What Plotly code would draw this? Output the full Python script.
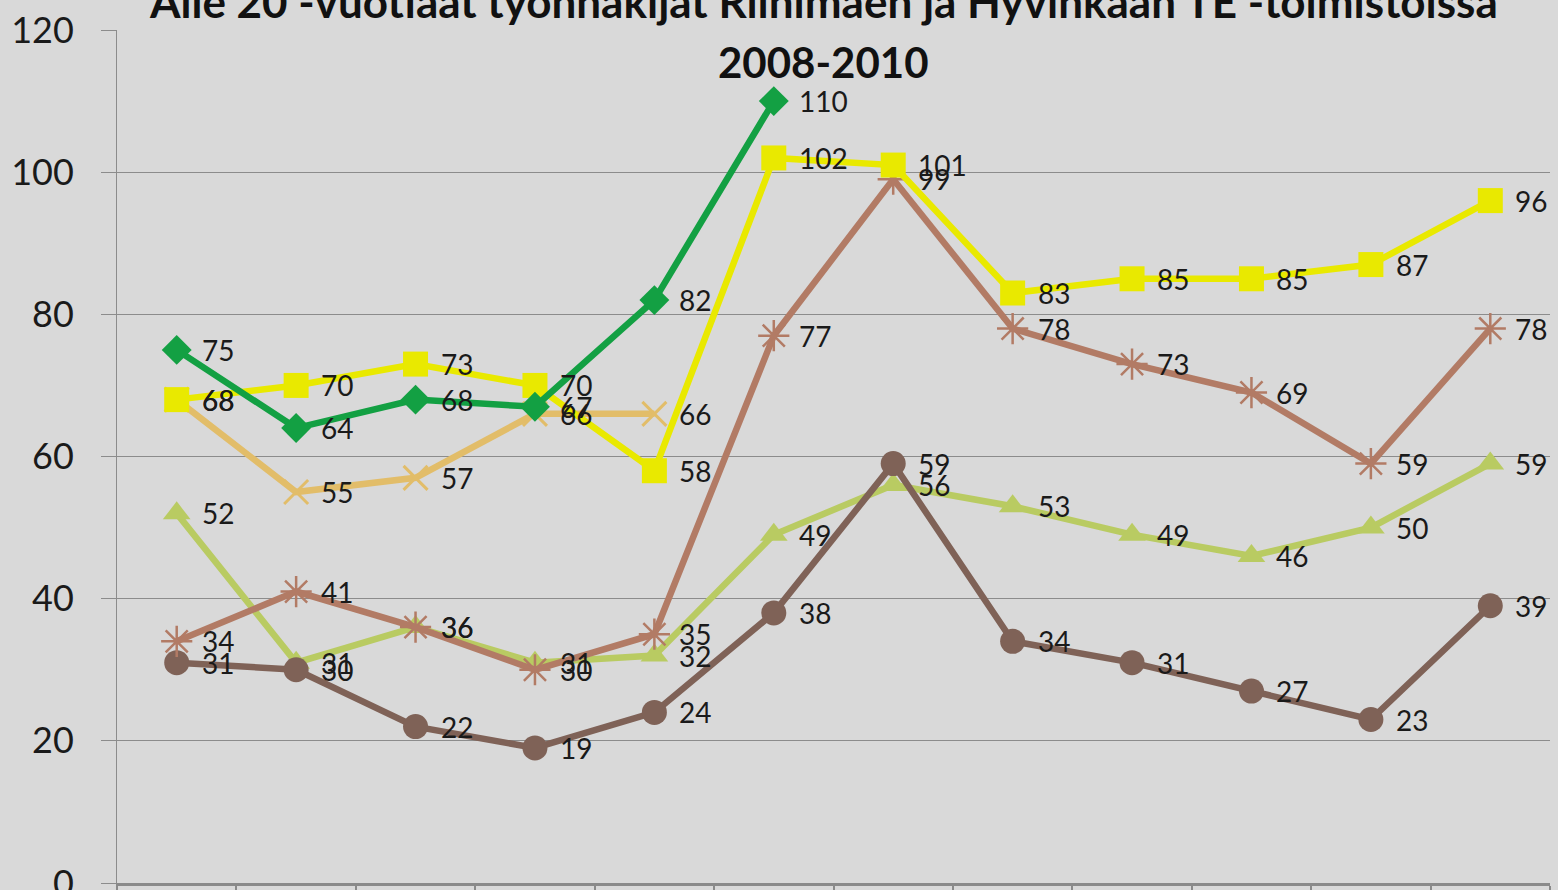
import plotly.graph_objects as go

categories = ["2008 Q1", "2008 Q2", "2008 Q3", "2008 Q4", "2009 Q1", "2009 Q2",
              "2009 Q3", "2009 Q4", "2010 Q1", "2010 Q2", "2010 Q3", "2010 Q4"]

green_vals = [75, 64, 68, 67, 82, 110]
yellow_vals = [68, 70, 73, 70, 58, 102, 101, 83, 85, 85, 87, 96]
tan_vals = [68, 55, 57, 66, 66]
olive_vals = [52, 31, 36, 31, 32, 49, 56, 53, 49, 46, 50, 59]
rust_vals = [34, 41, 36, 30, 35, 77, 99, 78, 73, 69, 59, 78]
brown_vals = [31, 30, 22, 19, 24, 38, 59, 34, 31, 27, 23, 39]

title_line1 = "Alle 20 -vuotiaat työnhakijat Riihimäen ja Hyvinkään TE -toimistoissa"
title_line2 = "2008-2010"

series = [
    # (values, color, symbol, size, marker line width)
    (olive_vals, "#b9cb62", "triangle-up", 24, None),
    (brown_vals, "#7f6257", "circle", 25, None),
    (rust_vals, "#b27b65", "asterisk-open", 26, 2.5),
    (tan_vals, "#e2bd69", "x-thin-open", 24, 3),
    (yellow_vals, "#e9e900", "square", 25, None),
    (green_vals, "#13a043", "diamond", 23, None),
]

fig = go.Figure()
for vals, color, symbol, size, mline in series:
    marker = dict(symbol=symbol, size=size, color=color)
    if mline:
        marker["line"] = dict(color=color, width=mline)
    else:
        marker["line"] = dict(width=0)
    fig.add_trace(go.Scatter(
        x=categories[:len(vals)], y=vals, mode="lines+markers",
        line=dict(color=color, width=6.5), marker=marker, showlegend=False,
        hoverinfo="skip"))

annotations = []
for vals, color, symbol, size, mline in series:
    for c, v in zip(categories, vals):
        annotations.append(dict(
            x=c, y=v, xref="x", yref="y", text=str(v), showarrow=False,
            xanchor="left", yanchor="middle", xshift=23, yshift=0,
            font=dict(family="Lato, Carlito, sans-serif", size=28, color="#1a1a1a")))

annotations.append(dict(
    x=0.5, y=1, xref="paper", yref="paper", xanchor="center", yanchor="middle",
    xshift=-10, yshift=29, text=f"<b>{title_line1}</b>", showarrow=False,
    font=dict(family="Lato, sans-serif", size=44, color="#111111")))
annotations.append(dict(
    x=0.5, y=1, xref="paper", yref="paper", xanchor="center", yanchor="middle",
    xshift=-10, yshift=-32, text=f"<b>{title_line2}</b>", showarrow=False,
    font=dict(family="Lato, sans-serif", size=42, color="#111111")))

fig.update_layout(
    width=1558, height=890,
    margin=dict(l=117, r=8, t=30, b=7, autoexpand=False),
    paper_bgcolor="#d9d9d9", plot_bgcolor="#d9d9d9",
    annotations=annotations,
    xaxis=dict(type="category", categoryorder="array", categoryarray=categories,
               range=[-0.5, 11.5], showgrid=False, showticklabels=False,
               ticks="outside", ticklen=12, tickcolor="#8a8a8a", tickwidth=1.5,
               tickson="boundaries", showline=True, linecolor="#8a8a8a",
               linewidth=2.5, zeroline=False, automargin=False),
    yaxis=dict(range=[0, 120], dtick=20, tick0=0, showgrid=True,
               gridcolor="#8c8c8c", gridwidth=1, showline=True,
               linecolor="#8c8c8c", linewidth=1, ticks="outside", ticklen=15,
               tickcolor="#8c8c8c", ticklabelstandoff=20, zeroline=False,
               automargin=False, ticklabeloverflow="allow",
               tickfont=dict(family="Lato, sans-serif", size=36, color="#1a1a1a")),
)

fig.write_html("out.html",
               config={"displayModeBar": False},
               post_script="document.body.style.margin='0px';"
                           "document.body.style.overflow='hidden';"
                           "document.body.style.background='#d9d9d9';")
